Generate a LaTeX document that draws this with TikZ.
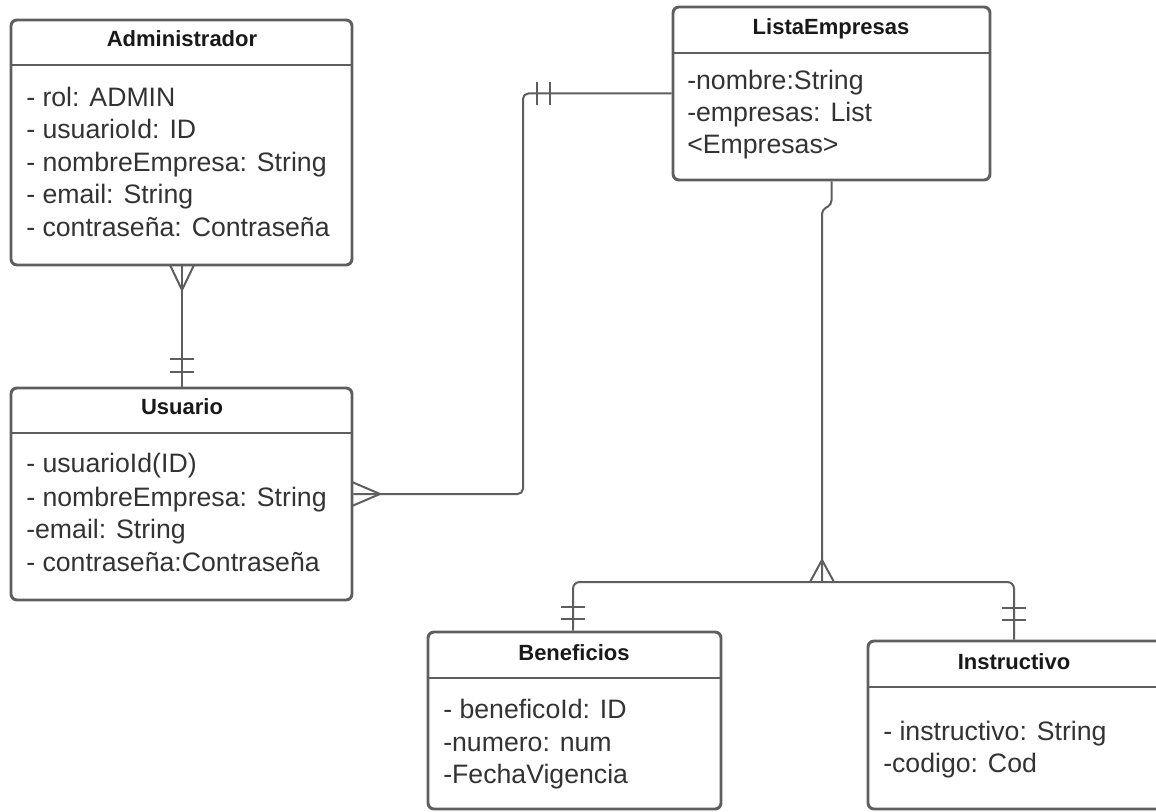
\documentclass[tikz,border=0pt]{standalone}
\usepackage{fontspec}
\setmainfont{Liberation Sans}
\usetikzlibrary{fit}
\definecolor{edge}{HTML}{5E5E5E}
\definecolor{txt}{HTML}{333333}
\begin{document}
\begin{tikzpicture}[x=0.75pt,y=-0.75pt,
  box/.style={draw=edge, line width=2.2pt, rounded corners=4.5pt, inner sep=0pt, fill=white},
  divider/.style={draw=edge, line width=2.2pt},
  conn/.style={draw=edge, line width=1.5pt},
  hdr/.style={font=\bfseries\fontsize{16.5}{20}\selectfont, text=black!90, inner sep=0pt, anchor=base},
  attr/.style={font=\fontsize{20}{24}\selectfont, text=txt, inner sep=0pt, anchor=base west}]
\useasboundingbox (0,0) rectangle (1156,812);
\clip (0,0) rectangle (1156,812);
\fill[white] (0,0) rectangle (1156,812);

% boxes
\node[box, fit={(11,20)(352,265)}] (admin) {};
\node[box, fit={(11,388)(352,600)}] (usuario) {};
\node[box, fit={(673,7)(990,180)}] (lista) {};
\node[box, fit={(428,632)(721,809)}] (benef) {};
\node[box, fit={(868,641)(1162,809)}] (inst) {};

% dividers
\draw[divider] (admin.west |- 0,65) -- (admin.east |- 0,65);
\draw[divider] (usuario.west |- 0,433) -- (usuario.east |- 0,433);
\draw[divider] (lista.west |- 0,53) -- (lista.east |- 0,53);
\draw[divider] (benef.west |- 0,678) -- (benef.east |- 0,678);
\draw[divider] (inst.west |- 0,687) -- (inst.east |- 0,687);

% headers
\node[hdr] (hAdmin) at (182,47) {Administrador};
\node[hdr] (hUsuario) at (182,415) {Usuario};
\node[hdr] (hLista) at (831,35) {ListaEmpresas};
\node[hdr] (hBenef) at (574,660) {Beneficios};
\node[hdr] (hInst) at (1014,669) {Instructivo};

% attributes
\node[attr] (a1) at (26,107) {- rol: ADMIN};
\node[attr] (a2) at (26,139) {- usuarioId: ID};
\node[attr] (a3) at (26,172) {- nombreEmpresa: String};
\node[attr] (a4) at (26,204) {- email: String};
\node[attr] (a5) at (26,237) {- contraseña: Contraseña};

\node[attr] (u1) at (26,473) {- usuarioId(ID)};
\node[attr] (u2) at (26,506) {- nombreEmpresa: String};
\node[attr] (u3) at (26,538) {-email: String};
\node[attr] (u4) at (26,571) {- contraseña:Contraseña};

\node[attr] (l1) at (687,90) {-nombre:String};
\node[attr] (l2) at (687,122) {-empresas: List};
\node[attr] (l3) at (687,154) {<Empresas>};

\node[attr] (b1) at (443,718) {- beneficoId: ID};
\node[attr] (b2) at (443,751) {-numero: num};
\node[attr] (b3) at (443,783) {-FechaVigencia};

\node[attr] (i1) at (883,740) {- instructivo: String};
\node[attr] (i2) at (883,772) {-codigo: Cod};

% connector Administrador -- Usuario
\draw[conn] (admin.south) -- (usuario.north);
\draw[conn] (170,265) -- (182,290) -- (194,265);
\draw[conn] (170,359) -- (194,359);
\draw[conn] (170,372) -- (194,372);

% connector Usuario -- ListaEmpresas
\coordinate (c1) at (523,0);
\draw[conn, rounded corners=4pt] (usuario.east) -- (usuario.east -| c1) -- (lista.west -| c1) -- (lista.west);
\draw[conn] (352,482) -- (380,494) -- (352,506);
\draw[conn] (537,82) -- (537,105);
\draw[conn] (550,82) -- (550,105);

% connector ListaEmpresas -- Beneficios / Instructivo
\coordinate (jB) at (573,582);
\coordinate (jI) at (1014,582);
\coordinate (jT) at (822,582);
\draw[conn, rounded corners=3pt] (lista.south) -- ++(0,23) -- (822,210) -- (jT);
\draw[conn, rounded corners=5pt] (benef.north -| jB) -- (jB) -- (jI) -- (inst.north -| jI);
\draw[conn] (810,582) -- (822,560) -- (834,582);
\draw[conn] (561,607) -- (585,607);
\draw[conn] (561,619) -- (585,619);
\draw[conn] (1002,608) -- (1026,608);
\draw[conn] (1002,620) -- (1026,620);
\end{tikzpicture}
\end{document}
